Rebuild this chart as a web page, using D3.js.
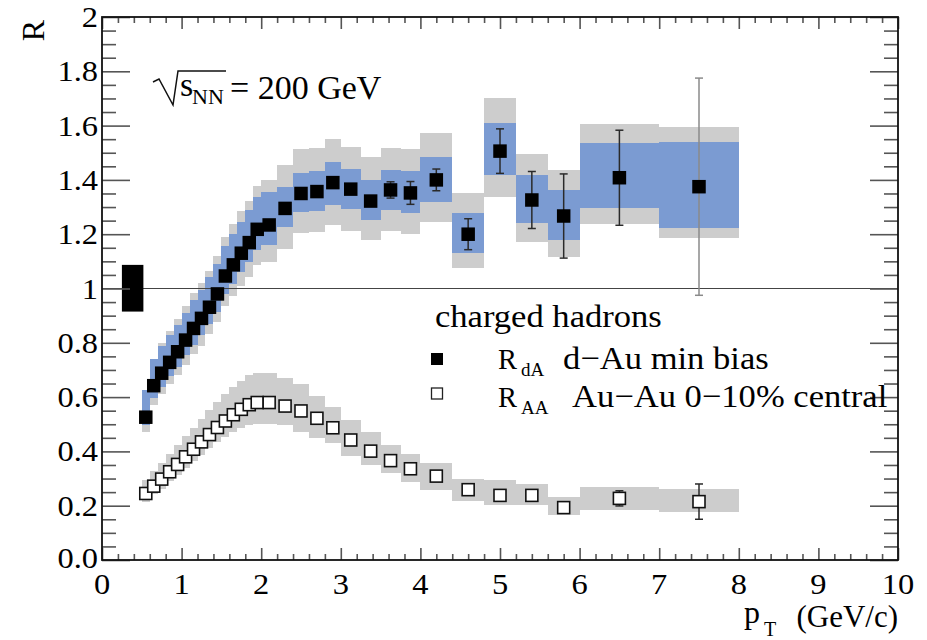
<!DOCTYPE html>
<html><head><meta charset="utf-8">
<script src="https://cdn.jsdelivr.net/npm/d3@7"></script>
<style>
body{margin:0;background:#fff}
</style>
</head><body>
<svg id="c" width="927" height="640"></svg>
<script>
// ---- data ----
const pt     = [0.55,0.65,0.75,0.85,0.95,1.05,1.15,1.25,1.35,1.45,1.55,1.65,1.75,1.85,1.95,2.1,2.3,2.5,2.7,2.9,3.125,3.375,3.625,3.875,4.2,4.6,5.0,5.4,5.8,6.5,7.5];
const halfW  = [0.05,0.05,0.05,0.05,0.05,0.05,0.05,0.05,0.05,0.05,0.05,0.05,0.05,0.05,0.05,0.1,0.1,0.1,0.1,0.1,0.125,0.125,0.125,0.125,0.2,0.2,0.2,0.2,0.2,0.5,0.5];
// d-Au min bias
const rdA    = [0.526,0.642,0.688,0.728,0.767,0.810,0.853,0.890,0.931,0.980,1.046,1.087,1.130,1.169,1.218,1.234,1.295,1.350,1.357,1.390,1.366,1.322,1.363,1.352,1.400,1.200,1.506,1.326,1.267,1.408,1.375];
const statDA = [0.01,0.01,0.01,0.01,0.01,0.01,0.01,0.01,0.01,0.01,0.01,0.01,0.01,0.01,0.01,0.01,0.01,0.01,0.01,0.01,0.01,0.015,0.03,0.042,0.04,0.057,0.082,0.105,0.155,0.175,0.40];
const blueUp = [0.10,0.10,0.10,0.10,0.10,0.10,0.105,0.105,0.11,0.11,0.11,0.115,0.115,0.12,0.12,0.12,0.08,0.074,0.075,0.077,0.075,0.078,0.075,0.08,0.085,0.077,0.102,0.092,0.096,0.127,0.166];
const blueDn = [0.03,0.045,0.05,0.05,0.055,0.055,0.06,0.06,0.06,0.065,0.065,0.07,0.07,0.07,0.075,0.075,0.07,0.067,0.07,0.083,0.075,0.07,0.075,0.075,0.08,0.07,0.088,0.086,0.088,0.113,0.153];
const grayUp = [0.09,0.10,0.11,0.115,0.12,0.125,0.13,0.13,0.135,0.14,0.145,0.15,0.155,0.155,0.16,0.166,0.16,0.163,0.16,0.16,0.155,0.163,0.155,0.163,0.171,0.15,0.194,0.171,0.169,0.198,0.219];
const grayDn = [0.055,0.07,0.075,0.08,0.085,0.09,0.095,0.10,0.10,0.105,0.11,0.115,0.12,0.125,0.13,0.135,0.15,0.147,0.15,0.156,0.155,0.142,0.15,0.15,0.154,0.126,0.168,0.154,0.15,0.17,0.19];
// Au-Au 0-10% central
const rAA      = [0.245,0.272,0.298,0.325,0.352,0.38,0.408,0.435,0.462,0.488,0.512,0.535,0.555,0.572,0.58,0.58,0.567,0.549,0.522,0.487,0.442,0.401,0.366,0.336,0.309,0.259,0.238,0.238,0.193,0.227,0.215];
const statAA   = [0.005,0.005,0.005,0.005,0.005,0.005,0.005,0.005,0.005,0.005,0.005,0.005,0.005,0.005,0.005,0.005,0.005,0.005,0.005,0.005,0.005,0.005,0.005,0.005,0.005,0.005,0.005,0.005,0.005,0.028,0.065];
const grayUpAA = [0.05,0.055,0.06,0.065,0.07,0.075,0.08,0.085,0.09,0.095,0.1,0.103,0.106,0.108,0.108,0.108,0.103,0.10,0.082,0.078,0.074,0.072,0.058,0.054,0.049,0.04,0.057,0.042,0.039,0.043,0.046];
const grayDnAA = [0.03,0.03,0.035,0.035,0.04,0.04,0.045,0.05,0.05,0.055,0.06,0.065,0.07,0.075,0.08,0.08,0.07,0.076,0.073,0.057,0.059,0.051,0.047,0.048,0.051,0.04,0.035,0.035,0.027,0.043,0.037];
// normalization uncertainty box
const normPt = [0.25,0.52];
const normR  = [0.915,1.087];
// axes
const xMajor = [0,1,2,3,4,5,6,7,8,9,10];
const xLabels = ["0","1","2","3","4","5","6","7","8","9","10"];
const yMajor = [0,0.2,0.4,0.6,0.8,1,1.2,1.4,1.6,1.8,2];
const yLabels = ["0.0","0.2","0.4","0.6","0.8","1","1.2","1.4","1.6","1.8","2"];

// ---- chart ----
const FONT="'Liberation Serif','Times New Roman',Tinos,'DejaVu Serif','Noto Serif',serif";
const W=927,H=640;
const svg=d3.select("#c");
svg.append("rect").attr("width",W).attr("height",H).attr("fill","#fff");
const x=d3.scaleLinear().domain([0,10]).range([102,898]);
const y=d3.scaleLinear().domain([0,2]).range([560,17]);
const BLUE="#7b9bd2", GRAY="#cdcdcd";

const dA=pt.map((p,i)=>({p,h:halfW[i],r:rdA[i],s:statDA[i],bu:blueUp[i],bd:blueDn[i],gu:grayUp[i],gd:grayDn[i]}));
const AA=pt.map((p,i)=>({p,h:halfW[i],r:rAA[i],s:statAA[i],gu:grayUpAA[i],gd:grayDnAA[i]}));

function boxes(data,up,dn,fill){
  svg.append("g").attr("shape-rendering","crispEdges").selectAll("rect").data(data).join("rect")
    .attr("x",d=>x(d.p-d.h)).attr("width",d=>x(d.p+d.h)-x(d.p-d.h))
    .attr("y",d=>y(d.r+d[up])).attr("height",d=>y(d.r-d[dn])-y(d.r+d[up]))
    .attr("fill",fill);
}
boxes(AA,"gu","gd",GRAY);
boxes(dA,"gu","gd",GRAY);
boxes(dA,"bu","bd",BLUE);

// unity line
svg.append("line").attr("x1",x(0)).attr("x2",x(10)).attr("y1",y(1)).attr("y2",y(1))
  .attr("stroke","#444").attr("stroke-width",1.2);

// normalization box
svg.append("rect").attr("x",x(normPt[0])).attr("width",x(normPt[1])-x(normPt[0]))
  .attr("y",y(normR[1])).attr("height",y(normR[0])-y(normR[1])).attr("fill","#000");

// error bars
function errbars(data){
  const g=svg.append("g");
  data.forEach(d=>{
    const c = d.s>0.3 ? "#8a8a8a" : "#2a2a2a";
    const cx=x(d.p), y1=y(d.r+d.s), y2=y(d.r-d.s);
    g.append("line").attr("x1",cx).attr("x2",cx).attr("y1",y1).attr("y2",y2).attr("stroke",c).attr("stroke-width",1.5);
    [y1,y2].forEach(yy=>g.append("line").attr("x1",cx-4).attr("x2",cx+4).attr("y1",yy).attr("y2",yy).attr("stroke",c).attr("stroke-width",1.5));
  });
}
errbars(dA);
errbars(AA);

// markers
const MS=13.5;
svg.append("g").selectAll("rect").data(dA).join("rect")
  .attr("x",d=>x(d.p)-MS/2).attr("y",d=>y(d.r)-MS/2).attr("width",MS).attr("height",MS).attr("fill","#000");
const MO=12;
svg.append("g").selectAll("rect").data(AA).join("rect")
  .attr("x",d=>x(d.p)-MO/2).attr("y",d=>y(d.r)-MO/2).attr("width",MO).attr("height",MO)
  .attr("fill","#fff").attr("stroke","#111").attr("stroke-width",1.6);

// ---- axes / frame ----
const xMinor=d3.range(0,10.001,0.2).filter(v=>Math.abs(v-Math.round(v))>1e-6);
const yMinor=d3.range(0,2.0001,0.05).filter(v=>Math.abs(v*5-Math.round(v*5))>1e-6);
function ax(gen,tr,vals,size){
  const g=svg.append("g").attr("transform",tr)
    .call(gen.tickValues(vals).tickSize(size).tickSizeOuter(0).tickFormat(""));
  g.select(".domain").remove();
  g.selectAll(".tick line").attr("stroke","#555").attr("stroke-width",1.6);
}
ax(d3.axisBottom(x),`translate(0,${y(0)})`,xMajor,-12);
ax(d3.axisBottom(x),`translate(0,${y(0)})`,xMinor,-6);
ax(d3.axisTop(x),`translate(0,${y(2)})`,xMajor,-12);
ax(d3.axisTop(x),`translate(0,${y(2)})`,xMinor,-6);
ax(d3.axisLeft(y),`translate(${x(0)},0)`,yMajor,-28);
ax(d3.axisLeft(y),`translate(${x(0)},0)`,yMinor,-14);
ax(d3.axisRight(y),`translate(${x(10)},0)`,yMajor,-28);
ax(d3.axisRight(y),`translate(${x(10)},0)`,yMinor,-14);
svg.append("rect").attr("x",x(0)).attr("y",y(2)).attr("width",x(10)-x(0)).attr("height",y(0)-y(2))
  .attr("fill","none").attr("stroke","#111").attr("stroke-width",1.8);

// text helper
function txt(xp,yp,str,size,anchor,sx){
  const g=svg.append("g").attr("transform",`translate(${xp},${yp}) scale(${sx||1},1)`);
  return g.append("text").attr("font-family",FONT).attr("font-size",size)
    .attr("text-anchor",anchor||"start").attr("fill","#000").text(str);
}
xMajor.forEach((v,i)=>txt(x(v),594,xLabels[i],29,"middle",1.12));
yMajor.forEach((v,i)=>txt(98,y(v)+(i===0?8:10),yLabels[i],29,"end",1.12));

// axis titles
svg.append("text").attr("transform",`translate(44,20) rotate(-90)`).attr("text-anchor","end")
  .attr("font-family",FONT).attr("font-size",32).text("R");
txt(898,627,"(GeV/c)",31,"end",1.0);
txt(744,623,"p",32,"start",1.0);
txt(764,636,"T",20,"start",1.0);

// sqrt(s_NN) = 200 GeV
svg.append("path").attr("d","M153,82 L159,79 L173,105 L178,71 L226,71")
  .attr("fill","none").attr("stroke","#111").attr("stroke-width",1.5);
txt(180,96,"s",34,"start",1);
txt(192,104,"NN",21,"start",1.05);
txt(230,99,"= 200 GeV",34,"start",1);

// legend
txt(435,327,"charged hadrons",32,"start",1.08);
svg.append("rect").attr("x",431).attr("y",353).attr("width",12).attr("height",12).attr("fill","#000");
svg.append("rect").attr("x",431.5).attr("y",388).attr("width",11).attr("height",11)
  .attr("fill","#fff").attr("stroke","#222").attr("stroke-width",1.3);
txt(498,369,"R",30,"start",0.95);
txt(521,376,"dA",19,"start",1.0);
txt(563,369,"d\u2212Au min bias",32,"start",1.08);
txt(498,407,"R",30,"start",0.95);
txt(521,414,"AA",19,"start",1.0);
txt(572,407,"Au\u2212Au 0\u221210% central",32,"start",1.08);
</script>
</body></html>
